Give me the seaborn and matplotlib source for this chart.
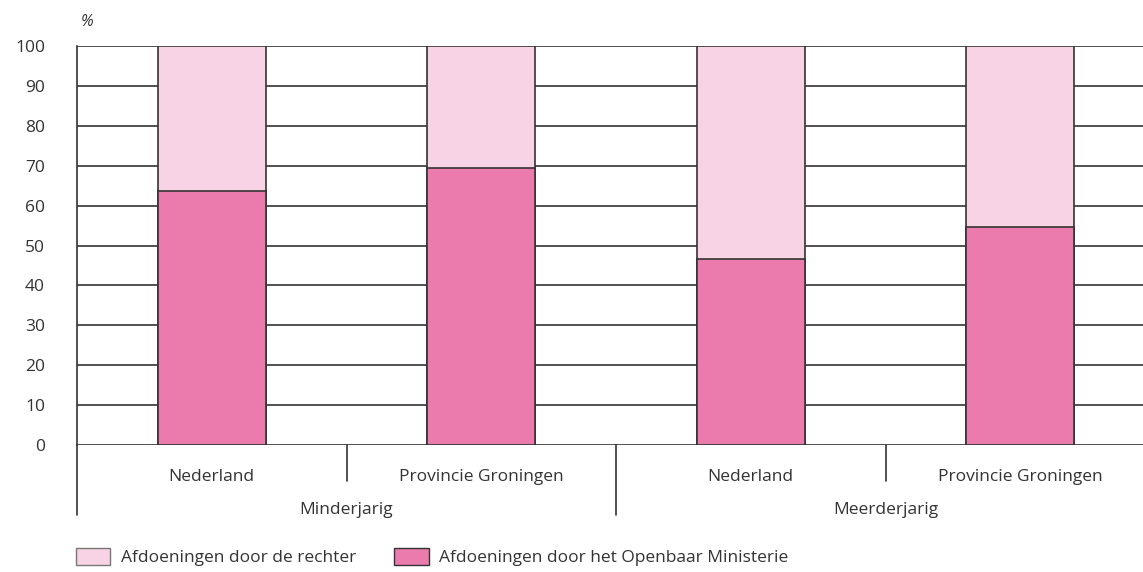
import pandas as pd
import matplotlib.pyplot as plt
import matplotlib.transforms as mtransforms
from matplotlib.patches import Patch
import seaborn as sns

# Data (percentages)
groups = ["Minderjarig", "Minderjarig", "Meerderjarig", "Meerderjarig"]
regions = ["Nederland", "Provincie Groningen", "Nederland", "Provincie Groningen"]
om_share = [63.7, 69.4, 46.6, 54.6]
rechter_share = [100 - v for v in om_share]
yticks = list(range(0, 101, 10))

light = "#F8D3E5"
dark = "#EC7BAD"
edge = "#333333"
fs = 12.5

df = pd.DataFrame({"group": groups, "region": regions,
                   "om": om_share, "rechter": rechter_share})
df["key"] = df["group"] + "|" + df["region"]
df["total"] = df["om"] + df["rechter"]
order = list(df["key"])

sns.set_style("white")
plt.rcParams["font.family"] = ["Open Sans", "DejaVu Sans"]

fig = plt.figure(figsize=(11.43, 5.72), dpi=100)
ax = fig.add_axes([77 / 1143, 127 / 572, 1078 / 1143, 399 / 572])

# grid lines behind the bars
for v in yticks:
    ax.axhline(v, color="#333333", lw=1.2, zorder=0)

sns.barplot(data=df, x="key", y="total", order=order, color=light, width=0.4,
            edgecolor=edge, linewidth=1.2, saturation=1, ax=ax, zorder=2)
sns.barplot(data=df, x="key", y="om", order=order, color=dark, width=0.4,
            edgecolor=edge, linewidth=1.2, saturation=1, ax=ax, zorder=3)

ax.set_xlim(-0.5, len(order) - 0.5)
ax.set_ylim(0, 100)
ax.set_yticks(yticks)
ax.tick_params(axis="y", length=0, pad=23, labelsize=fs, labelcolor="#333333")
ax.set_xticks([])
ax.set_xlabel("")
ax.set_ylabel("")
for s in ["top", "right", "bottom"]:
    ax.spines[s].set_visible(False)
ax.spines["left"].set_color("#333333")
ax.spines["left"].set_linewidth(1.2)

ax.text(0.003, 1.06, "%", transform=ax.transAxes, fontsize=fs - 1,
        style="italic", color="#333333", ha="left", va="center")

# multi-level x labels
trans = mtransforms.blended_transform_factory(ax.transData, ax.transAxes)
for i, r in enumerate(regions):
    ax.text(i, -0.08, r, transform=trans, ha="center", va="center",
            fontsize=fs, color="#333333")
for start in [0, 2]:
    ax.text(start + 0.5, -0.163, groups[start], transform=trans, ha="center",
            va="center", fontsize=fs, color="#333333")
for xpos in [0.5, 2.5]:
    ax.plot([xpos, xpos], [0, -0.09], transform=trans, color="#333333",
            lw=1.2, clip_on=False)
for xpos in [-0.5, 1.5]:
    ax.plot([xpos, xpos], [0, -0.175], transform=trans, color="#333333",
            lw=1.2, clip_on=False)

handles = [Patch(facecolor=light, edgecolor="#777777", label="Afdoeningen door de rechter"),
           Patch(facecolor=dark, edgecolor="#333333", label="Afdoeningen door het Openbaar Ministerie")]
fig.legend(handles=handles, loc="center left", bbox_to_anchor=(60 / 1143, 15 / 572),
           ncol=2, frameon=False, fontsize=fs, handlelength=2.0, handleheight=1.15,
           columnspacing=2.2, handletextpad=0.6, labelcolor="#333333")

fig.savefig("out.png", dpi=100)
